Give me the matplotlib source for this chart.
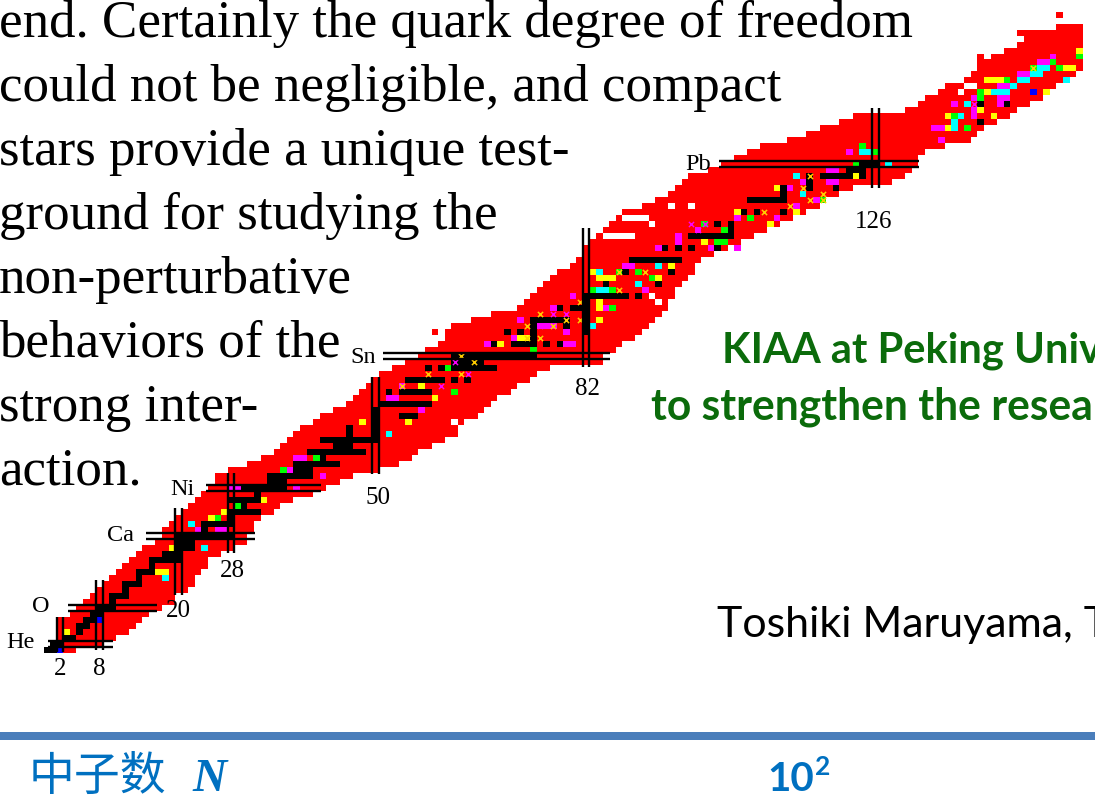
import matplotlib
matplotlib.use("Agg")
import matplotlib.pyplot as plt
from matplotlib.patches import Rectangle

W, H = 1095, 799
# ---- band of known nuclides: one Z range per neutron number
band_n_start = 2
band_z_hi = [6,6,7,8,9,10,11,12,
 13,14,15,16,17,18,18,19,21,22,
 23,24,25,26,27,28,30,30,31,31,
 31,32,32,33,33,34,35,36,37,38,
 38,39,40,40,41,41,42,43,44,45,
 46,47,47,48,48,49,49,50,51,51,
 52,54,55,55,55,56,56,56,57,57,
 57,57,58,59,60,61,62,63,64,64,
 65,66,68,69,70,71,72,73,73,74,
 74,75,75,76,76,77,78,79,80,80,
 80,81,81,82,82,83,83,84,84,85,
 85,85,85,86,86,86,87,87,88,88,
 88,89,89,90,90,90,90,90,90,90,
 90,91,91,92,93,93,94,94,95,
 95,96,97,99,99,100,100,101,101,102,
 103,103,104,104,104,105,105,105,105]
band_z_lo = [1,1,1,2,2,2,2,3,
 3,4,4,5,6,7,8,8,9,9,
 11,11,12,14,15,17,17,18,18,19,
 19,21,23,24,24,25,26,26,27,27,
 27,28,28,29,29,30,30,31,31,31,
 31,32,32,32,33,33,34,35,35,36,
 36,37,37,38,39,40,41,42,43,44,
 44,45,46,46,47,47,48,49,49,49,
 49,49,49,49,49,51,51,52,53,53,
 54,55,56,57,58,60,62,63,64,66,
 67,67,68,68,69,69,70,70,71,71,
 72,72,73,73,74,74,75,75,76,77,
 77,78,78,79,79,79,79,79,79,80,
 80,81,82,84,85,85,85,86,86,
 86,86,87,88,89,89,90,90,91,92,
 92,93,93,94,95,96,96,97,98]
red_extra = [(154,107),(142,100),(137,95),(148,104),(149,104),(150,104),(151,104),
             (88,74),(89,74),(90,74),(91,74),(92,74),(59,54),(63,39),(94,60)]
holes = [(95,75),(98,75),(88,73),(89,73),(90,73),(91,73),(92,72),(75,47),(93,59),(92,60),
         (85,70),(86,70),(87,70),(88,70),(89,70),(140,95),(141,95),(139,94),(64,39),(62,39),(63,38)]

# ---- black nuclides: each entry a row Z with a run of N
stable_z  = [1,2,3,4,5,6,7,8,9,10,11,12,13,14,15,16,17,18,19,20,21,22,23,24,25,26,27,28,29,30,
             31,32,33,34,35,36,
             40,42,44,44,46,46,46,48,48,48,49,50,52,52,52,52,54,54,54,55,56,56,58,58,58,
             60,60,60,62,62,64,64,66,68,68,68,68,70,72,72,74,74,74,76,78,78,78,80,80,81,82]
stable_n0 = [0,1,3,5,5,6,7,8,10,10,12,12,14,14,16,16,18,20,20,20,24,24,28,28,30,28,32,30,34,34,
             38,38,42,40,44,42,
             54,51,52,54,55,62,64,58,60,62,62,62,68,71,76,78,70,72,74,79,74,75,78,80,82,
             82,88,90,85,93,88,95,89,94,96,98,102,98,102,104,106,108,112,107,112,116,120,116,118,122,124]
stable_n1 = [1,2,4,5,6,7,8,10,10,12,12,14,14,16,16,20,20,22,22,28,24,28,28,32,30,32,32,36,36,40,
             40,44,42,48,46,50,
             56,58,52,58,60,62,64,58,60,68,66,74,68,74,76,78,70,72,74,79,74,79,78,81,82,
             87,88,90,85,93,88,95,96,94,96,98,102,104,102,104,106,108,112,112,112,116,120,116,122,124,126]
# the black column along N = 50 and N = 82
black_col = [(50,36),(50,37),(50,38),(50,39),(50,40),(50,41),(46,35),(46,36),(46,37),(46,38),
             (82,54),(82,55),(82,56),(82,57),(82,58),(82,59),(82,60),(74,52),(74,53),(74,54),(74,55),
             (112,76),(112,77),(112,78),(104,71),(104,72),(124,80),(124,81),(124,82),(116,78),(116,79),(116,80),(44,36)]

# ---- coloured cells (N, Z)
yellow = [(3,4),(19,18),(19,16),(17,14),(18,14),(25,23),(27,24),(33,26),(29,26),(41,33),
          (57,45),(59,43),(48,39),(55,39),(69,52),(73,53),(72,53),(84,56),(84,59),(84,58),(87,60),
          (95,65),(83,64),(85,63),(86,63),(84,63),(93,63),(105,74),(104,72),(111,78),(110,76),(109,76),
          (114,74),(110,72),(123,80),(120,81),(100,69),(135,88),(137,88),(138,92),(137,90),(142,91),
          (144,90),(144,96),(143,96),(145,96),(152,94),(155,98),(154,98),(156,98),(157,101),(143,94)]
magenta = [(23,21),(27,21),(26,21),(27,20),(28,28),(29,28),(38,28),(37,31),(36,30),(38,33),(39,33),(39,32),(44,32),(42,30),
           (54,45),(53,43),(52,43),(57,41),(67,52),(68,52),(80,52),(79,52),(71,53),(77,58),(72,56),(80,60),(93,68),
           (85,58),(77,55),(76,55),(75,55),(79,54),(88,65),(89,65),(91,61),(122,84),(119,81),(120,81),(120,79),(119,79),
           (115,79),(113,78),(105,73),(96,70),(96,69),(101,68),(105,68),(103,69),(111,73),(114,75),(117,76),
           (148,97),(149,97),(148,96),(152,99),(153,100),(151,99),(141,93),(141,90),(141,91),(145,93),(146,93),
           (145,95),(136,88),(135,88),(138,92),(136,86),(99,71),(146,95),(145,92)]
cyan = [(18,13),(21,18),(24,18),(22,22),(35,28),(52,37),(84,61),(85,61),(84,64),(90,62),(93,65),(83,55),
        (114,80),(128,82),(124,84),(125,84),(115,77),(140,92),(139,90),(138,89),(138,88),(144,94),(145,94),
        (146,94),(147,95),(148,96),(149,96),(150,97),(151,97),(152,98),(150,98),(151,98),(155,96)]
green = [(11,10),(26,23),(25,20),(29,25),(36,31),(41,33),(35,29),(62,44),(57,44),(61,48),(86,58),
         (83,61),(86,61),(87,64),(90,64),(93,66),(92,63),(74,51),(100,72),(103,71),(104,71),(102,69),(103,69),
         (107,73),(108,74),(118,76),(123,81),(123,82),(126,84),(140,88),(142,93),(142,94),(146,96),(150,98),
         (153,99),(154,98),(157,100),(138,90),(124,85)]
blue = [(2,1),(8,6),(28,24),(50,36),(150,94)]
black_extra = [(142,92),(146,92),(142,89)]
x_yellow = [(54,45),(58,47),(63,50),(65,49),(63,47),(73,53),(75,53),(73,55),(75,57),(77,55),(79,56),(81,56),
            (81,59),(87,64),(91,64),(87,61),(109,74),(113,75),(115,78),(116,80),(116,76),(118,76),(118,77),(150,98)]
x_magenta = [(62,49),(64,47),(60,45),(77,57),(79,57),(75,55),(99,71),(98,72),(100,72),(141,92)]

# ---- magic numbers and the extent of their double lines
magic_n = [2,8,20,28,50,82,126]
magic_n_z0 = [0.6,0.9,10.1,17.1,30.3,48.2,78]
magic_n_z1 = [6.4,12.6,24.6,30.5,46.5,71.4,91.4]
magic_z = [2,8,20,28,50,82]
magic_z_n0 = [0.2,3.2,15,24.2,51.1,102.2]
magic_z_n1 = [10,16.7,31.7,41.7,85.6,132.6]
element_labels = ["He","O","Ca","Ni","Sn","Pb"]
n_labels = ["2","8","20","28","50","82","126"]

para = ["end. Certainly the quark degree of freedom","could not be negligible, and compact",
        "stars provide a unique test-","ground for studying the","non-perturbative",
        "behaviors of the","strong inter-","action."]

fig = plt.figure(figsize=(W/100, H/100), dpi=100, facecolor="white")
ax = fig.add_axes([0,0,1,1])
ax.set_xlim((0-46.85)/6.577, (W-46.85)/6.577)
ax.set_ylim((655.5-H)/5.99, 655.5/5.99)
ax.axis("off")

RED = "#ff0000"
ns = [band_n_start+i for i in range(len(band_z_hi))]
ax.bar(ns, [h-l+1 for h,l in zip(band_z_hi,band_z_lo)], bottom=[l-0.5 for l in band_z_lo],
       width=1.0, color=RED, linewidth=0, antialiased=False, zorder=1)

def cells(pts, color, z=2):
    for n,zz in pts:
        ax.add_patch(Rectangle((n-0.5,zz-0.5),1,1,facecolor=color,edgecolor="none",antialiased=False,zorder=z))

cells(holes, "white")
cells(red_extra, RED)
cells(yellow, "#ffff00", 3)
cells(magenta, "#ff00ff", 3)
cells(cyan, "#00ffff", 3)
cells(green, "#00ff00", 3)
cells(blue, "#0000ff", 3)
for zz,n0,n1 in zip(stable_z,stable_n0,stable_n1):
    cells([(n,zz) for n in range(n0,n1+1)], "black", 4)
cells(black_col, "black", 4)
cells(black_extra, "black", 4)
ax.scatter(*zip(*x_yellow), marker="x", s=14, c="#ffcc00", linewidths=1.1, zorder=5)
ax.scatter(*zip(*x_magenta), marker="x", s=14, c="#ff00ff", linewidths=1.0, zorder=5)

for n,z0,z1 in zip(magic_n,magic_n_z0,magic_n_z1):
    for d in (-0.5,0.5):
        ax.plot([n+d,n+d],[z0,z1],color="black",lw=1.7,solid_capstyle="butt",zorder=6)
for z,n0,n1 in zip(magic_z,magic_z_n0,magic_z_n1):
    for d in (-0.5,0.5):
        ax.plot([n0,n1],[z+d,z+d],color="black",lw=1.7,solid_capstyle="butt",zorder=6)

def T(x,y,s,**k):
    k.setdefault("va","baseline")
    k.setdefault("ha","left")
    return fig.text(x/W,1-y/H,s,**k)

SERIF = "Liberation Serif"
for i,line in enumerate(para):
    T(-1,37+64*i,line,family=SERIF,fontsize=38.2,color="black",zorder=10)

lab_x = [6,32,107,170,350,685]
lab_y = [648,612,541,495,363,170]
for s,x,y in zip(element_labels,lab_x,lab_y):
    T(x,y,s,family=SERIF,fontsize=17.5,color="black")
nl_x = [60,99,178,232,378,587,874]
nl_y = [675,675,617,577,504,395,228]
for s,x,y in zip(n_labels,nl_x,nl_y):
    T(x,y,s,family=SERIF,fontsize=18,color="black",ha="center")

GREEN = "#0b6b0b"
T(722,362,"KIAA at Peking Univ",family="Lato",weight="bold",fontsize=30,color=GREEN)
T(651,419,"to strengthen the resea",family="Lato",weight="bold",fontsize=30.7,color=GREEN)
T(717,637,"Toshiki Maruyama, T",family="Lato",fontsize=31,color="black")

fig.add_artist(Rectangle((0,1-740/H),1,8/H,transform=fig.transFigure,facecolor="#4a7ebb",edgecolor="none"))
BL = "#0070c0"
T(29,790,"中子数",family="Noto Sans CJK SC",fontsize=33,color=BL)
T(192,791,"N",family=SERIF,style="italic",weight="bold",fontsize=34,color=BL)
T(767,791,"10",family="Lato",weight="bold",fontsize=29,color=BL)
T(815,775,"2",family="Lato",weight="bold",fontsize=19,color=BL)

fig.savefig("out.png",dpi=100)
